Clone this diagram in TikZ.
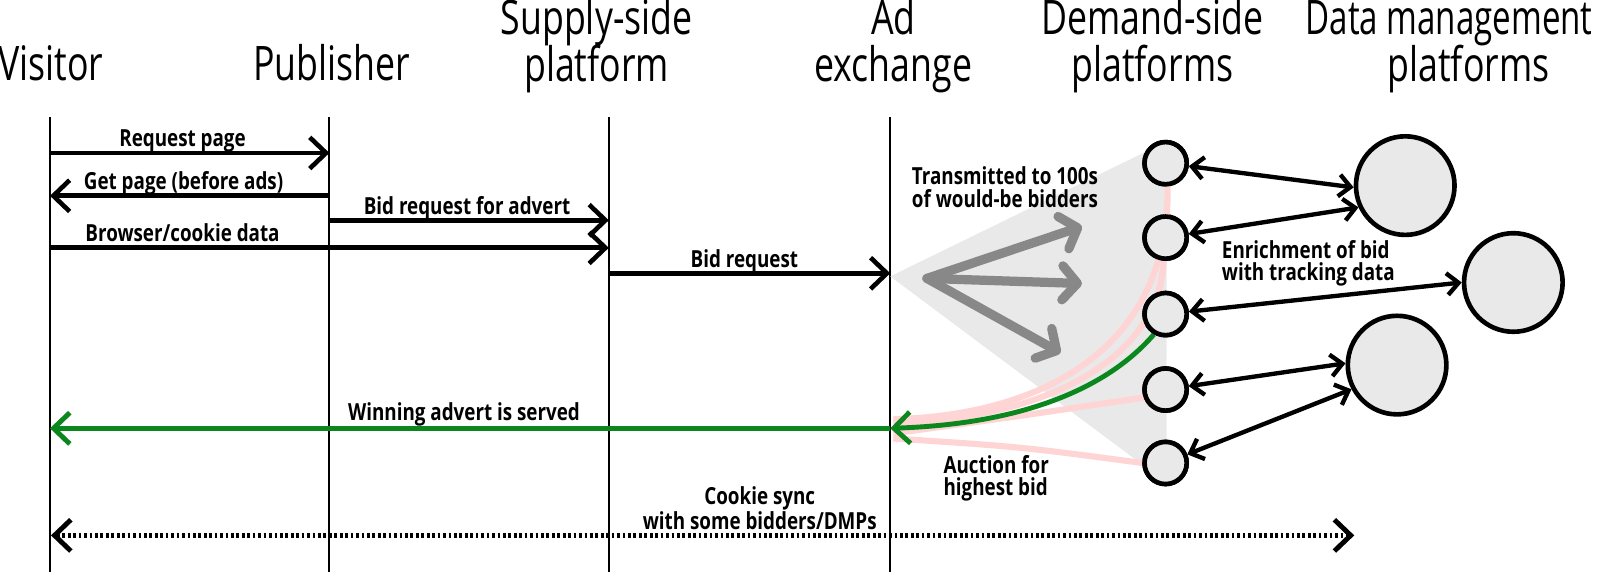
\documentclass[tikz,border=0pt]{standalone}
\usepackage{fontspec}
\setmainfont{Open Sans}[FakeStretch=0.75]
\newfontfamily\lblfont{Open Sans}[FakeStretch=0.8]
\newfontfamily\dmpfont{Open Sans}[FakeStretch=0.695]
\usetikzlibrary{arrows.meta}
\definecolor{winG}{RGB}{12,135,30}
\definecolor{pinkL}{RGB}{255,212,212}
\definecolor{fillG}{RGB}{233,233,233}
\definecolor{arrG}{RGB}{136,136,136}
\begin{document}
\begin{tikzpicture}[x=0.75pt,y=-0.75pt,
  hdr/.style={font=\fontsize{35}{36}\selectfont, anchor=base, inner sep=0pt},
  lbl/.style={font=\lblfont\bfseries\fontsize{17.3}{16.5}\selectfont, anchor=base, inner sep=0pt, align=left},
  life/.style={line width=1.5pt},
  tipM/.tip={Straight Barb[length=12pt,width=23pt]},
  tipS/.tip={Straight Barb[length=8.5pt,width=16pt]},
  msg/.style={line width=3.4pt, -tipM},
  dbl/.style={line width=3.2pt, tipS-tipS},
  pinkc/.style={pinkL, line width=4.5pt},
  grayarr/.style={arrG, line width=6.8pt, line cap=round, line join=round, -{Straight Barb[length=11pt,width=25pt,line cap=round,line join=round]}},
  sc/.style={circle, draw, line width=3.4pt, fill=fillG, minimum size=31pt, inner sep=0pt},
  bc/.style={circle, draw, line width=3.4pt, fill=fillG, minimum size=72.5pt, inner sep=0pt}
]
\useasboundingbox (0,0) rectangle (1568,561);

% headers
\node[hdr] (hV) at (50,79) {Visitor};
\node[hdr] (hP) at (325,79) {Publisher};
\node[hdr] (hS1) at (585,34) {Supply-side};
\node[hdr] (hS2) at (585,80) {platform};
\node[hdr] (hA1) at (876,34) {Ad};
\node[hdr] (hA2) at (876,80) {exchange};
\node[hdr] (hD1) at (1130,34) {Demand-side};
\node[hdr] (hD2) at (1130,80) {platforms};
\node[hdr, anchor=base west, font=\dmpfont\fontsize{35}{36}\selectfont] (hM1) at (1280,34) {Data management};
\node[hdr] (hM2) at (1440,80) {platforms};

% lifelines
\coordinate (Vt) at (49,115);  \coordinate (Vb) at (49,561);
\coordinate (Pt) at (323,115); \coordinate (Pb) at (323,561);
\coordinate (St) at (597,115); \coordinate (Sb) at (597,561);
\coordinate (At) at (873,115); \coordinate (Ab) at (873,561);
\draw[life] (Vt) -- (Vb);
\draw[life] (Pt) -- (Pb);
\draw[life] (St) -- (Sb);
\draw[life] (At) -- (Ab);

% gray fan
\fill[fillG] (873,271) -- (1121,150) -- (1144,150) -- (1144,454) -- (1118,454) -- cycle;
\coordinate (g0) at (909,273);
\coordinate (g1) at (1061,222);
\coordinate (g2) at (1061,278);
\coordinate (g3) at (1040,346);
\draw[grayarr] (g0) -- (g1);
\draw[grayarr] (g0) -- (g2);
\draw[grayarr] (g0) -- (g3);

% bidders
\node[sc] (c1) at (1143,160) {};
\node[sc] (c2) at (1143,233) {};
\node[sc] (c3) at (1143,308) {};
\node[sc] (c4) at (1143,382) {};
\node[sc] (c5) at (1143,454) {};

% auction curves
\coordinate (x1) at (876,411);
\coordinate (x2) at (876,415);
\coordinate (x3) at (873,420);
\coordinate (x4) at (876,425);
\coordinate (x5) at (876,430);
\draw[pinkc] (c1.-85) .. controls (1147,350) and (1010,408) .. (x1);
\draw[pinkc] (c2.-95) .. controls (1136,360) and (1010,412) .. (x2);
\draw[pinkc] (c4.200) .. controls (1000,408) .. (x4);
\draw[pinkc] (c5.west) .. controls (1000,438) .. (x5);
\draw[winG, line width=3.6pt, -tipM] (c3.240) .. controls (1085,382) and (1000,416) .. (x3);

% circles again, over the curve ends
\node[sc] (c1o) at (c1) {};
\node[sc] (c2o) at (c2) {};
\node[sc] (c3o) at (c3) {};
\node[sc] (c4o) at (c4) {};
\node[sc] (c5o) at (c5) {};

% data management platforms
\node[bc] (b1) at (1378,182) {};
\node[bc] (b2) at (1484,277) {};
\node[bc] (b3) at (1370,358) {};

\draw[dbl] (c1) -- (b1.182);
\draw[dbl] (c2) -- (b1.205);
\draw[dbl] (c3) -- (b2.180);
\draw[dbl] (c4) -- (b3.178);
\draw[dbl] (c5) -- (b3.208);

% messages
\draw[msg] (Vt |- 0,150) -- (Pt |- 0,150);
\draw[msg] (Pt |- 0,192) -- (Vt |- 0,192);
\draw[msg] (Pt |- 0,216) -- (St |- 0,216);
\draw[msg] (Vt |- 0,243) -- (St |- 0,243);
\draw[msg] (St |- 0,268) -- (At |- 0,268);
\draw[winG, line width=3.6pt, -tipM] (At |- 0,420) -- (Vt |- 0,420);
\draw[line width=3.6pt, dash pattern=on 2pt off 2pt, tipM-tipM] (50,525) -- (1328,525);

% labels
\node[lbl] (l1) at (179,144) {Request page};
\node[lbl] (l2) at (180,186) {Get page (before ads)};
\node[lbl] (l3) at (458,210) {Bid request for advert};
\node[lbl] (l4) at (179,237) {Browser/cookie data};
\node[lbl] (l5) at (730,262) {Bid request};
\node[lbl] (l6) at (455,412) {Winning advert is served};
\node[lbl, align=center] (l7) at (745,519) {Cookie sync\\with some bidders/DMPs};
\node[lbl, anchor=base west] (l8) at (894,203) {Transmitted to 100s\\of would-be bidders};
\node[lbl, anchor=base west] (l9) at (1198,275) {Enrichment of bid\\with tracking data};
\node[lbl, anchor=base west] (l10) at (925,486) {Auction for\\highest bid};
\end{tikzpicture}
\end{document}
